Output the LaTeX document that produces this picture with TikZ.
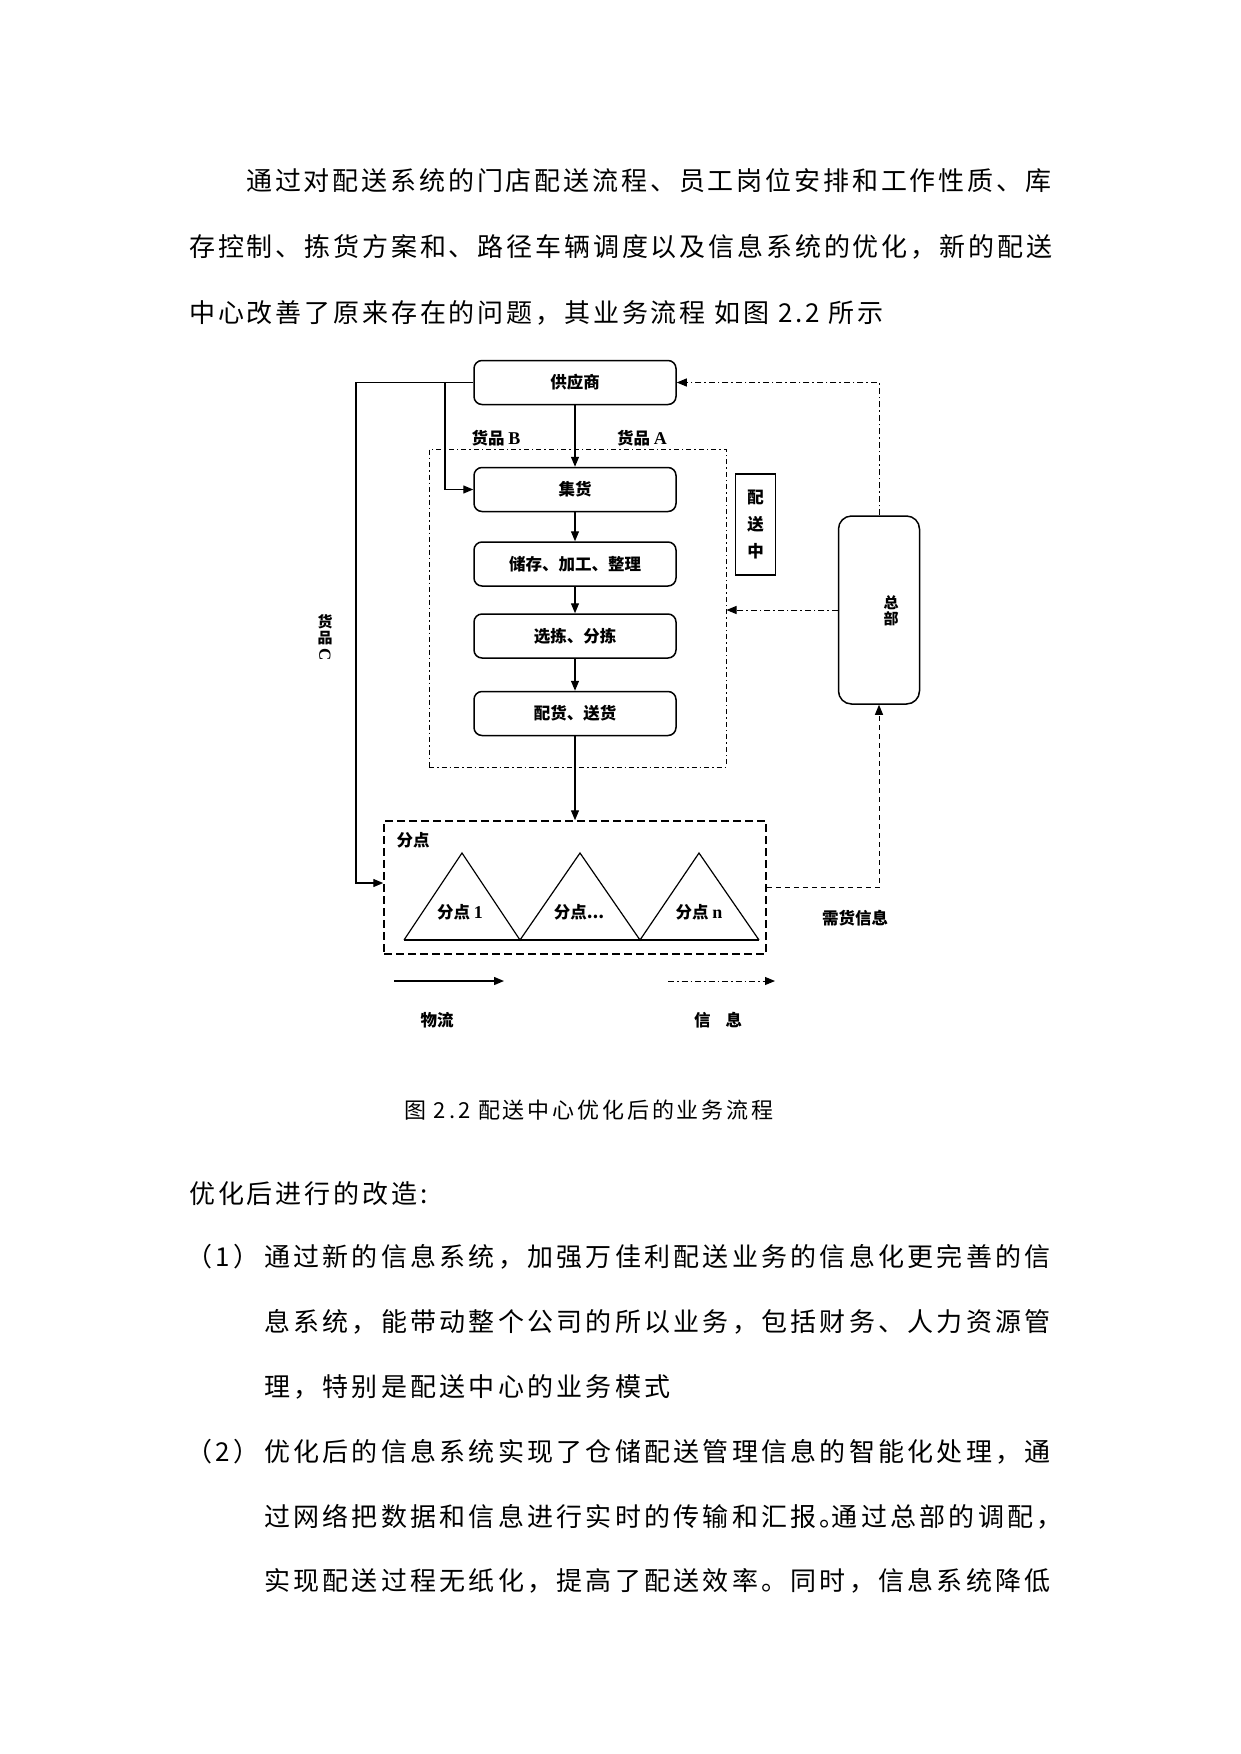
\documentclass[tikz,border=0pt]{standalone}
\usepackage{fontspec}
\usepackage{graphicx}
\usetikzlibrary{arrows.meta}
\newfontfamily\bodyA[LetterSpace=11]{Noto Sans CJK SC}
\newfontfamily\bodyB[LetterSpace=12.5]{Noto Sans CJK SC}
\newfontfamily\capfont[LetterSpace=13]{Noto Sans CJK SC}
\newfontfamily\dfont{Noto Sans CJK SC}
\newfontfamily\lfont{Liberation Serif}
\newcommand{\latn}[1]{{\lfont\bfseries\fontsize{18}{18}\selectfont #1}}
\begin{document}
\begin{tikzpicture}[x=1pt,y=-1pt,
  txtA/.style={anchor=west, inner sep=0pt, font=\bodyA\fontsize{26}{26}\selectfont},
  txtB/.style={anchor=west, inner sep=0pt, font=\bodyB\fontsize{26}{26}\selectfont},
  capt/.style={anchor=west, inner sep=0pt, font=\capfont\fontsize{22}{22}\selectfont},
  box/.style={draw, line width=1.5pt, rounded corners=8pt, minimum width=202pt, minimum height=44pt, inner sep=0pt, font=\dfont\bfseries\fontsize{16.5}{16.5}\selectfont},
  lbl/.style={inner sep=0pt, font=\dfont\bfseries\fontsize{16.5}{16.5}\selectfont},
  arr/.style={line width=1.3pt, -{Triangle[length=10pt,width=8pt]}},
  info/.style={line width=1pt, dash pattern=on 6pt off 3pt on 1.5pt off 3pt, -{Triangle[length=10pt,width=8pt]}},
  need/.style={line width=1pt, dash pattern=on 5pt off 4pt, -{Triangle[length=10pt,width=8pt]}}
]
\fill[white] (0,0) rectangle (1241,1754);
\useasboundingbox (0,0) rectangle (1241,1754);

% ---------- body text ----------
\node[txtA] (p1) at (246,181) {通过对配送系统的门店配送流程、员工岗位安排和工作性质、库};
\node[txtA] (p2) at (189,247) {存控制、拣货方案和、路径车辆调度以及信息系统的优化，新的配送};
\node[txtA] (p3) at (189,313) {中心改善了原来存在的问题，其业务流程 如图 2.2 所示};

\node[capt] (cap) at (404,1110) {图 2.2 配送中心优化后的业务流程};

\node[txtA] (q0) at (189,1194) {优化后进行的改造:};
\node[txtB] (q1n) at (186,1257) {（1）};
\node[txtB] (q1) at (264,1257) {通过新的信息系统，加强万佳利配送业务的信息化更完善的信};
\node[txtB] (q2) at (264,1322) {息系统，能带动整个公司的所以业务，包括财务、人力资源管};
\node[txtB] (q3) at (264,1387) {理，特别是配送中心的业务模式};
\node[txtB] (q4n) at (186,1452) {（2）};
\node[txtB] (q4) at (264,1452) {优化后的信息系统实现了仓储配送管理信息的智能化处理，通};
\node[txtB] (q5) at (264,1517) {过网络把数据和信息进行实时的传输和汇报。\kern-14pt 通过总部的调配，};
\node[txtB] (q6) at (264,1581) {实现配送过程无纸化，提高了配送效率。同时，信息系统降低};

% ---------- diagram ----------
\node[box] (sup) at (575,382.5) {供应商};
\node[box] (jh)  at (575,489.5) {集货};
\node[box] (cc)  at (575,564)   {储存、加工、整理};
\node[box] (xj)  at (575,636)   {选拣、分拣};
\node[box] (ph)  at (575,713.5) {配货、送货};

\node[draw, line width=1pt, dash pattern=on 5pt off 3pt on 1.5pt off 3pt,
      minimum width=297pt, minimum height=318pt, inner sep=0pt] (dc) at (577.5,608) {};

\node[draw, line width=1.5pt, minimum width=40pt, minimum height=101pt, inner sep=0pt,
      align=center, font=\dfont\bfseries\fontsize{16.5}{27}\selectfont] (pszx) at (755.5,524.5) {配\\送\\中};

\node[draw, line width=1.5pt, rounded corners=13pt, minimum width=81pt, minimum height=188pt] (hq) at (879,610) {};
\node[inner sep=0pt, align=center, font=\dfont\bfseries\fontsize{15}{16.5}\selectfont] (hqt) at (891,611) {总\\部};

\node[draw, line width=1.5pt, dash pattern=on 8pt off 4pt, minimum width=382pt, minimum height=133pt] (fd) at (575,887.5) {};
\node[lbl] (fdl) at (413,840) {分点};

% triangles
\draw[line width=1.2pt] (404,940) -- (759,940);
\draw[line width=1.2pt] (404,940) -- (462,853) -- (520,940) -- (580,853) -- (640,940) -- (699,853) -- (759,940);
\node[lbl] (t1) at (460,912) {分点 \latn{1}};
\node[lbl] (t2) at (579,912) {分点...};
\node[lbl] (t3) at (699,912) {分点 \latn{n}};

% labels
\node[lbl] (gb) at (496,438) {货品 \latn{B}};
\node[lbl] (ga) at (642,438) {货品 \latn{A}};
\node[lbl, font=\dfont\bfseries\fontsize{15}{15}\selectfont] (gc1) at (325,622) {货};
\node[lbl, font=\dfont\bfseries\fontsize{15}{15}\selectfont] (gc2) at (325,638) {品};
\node[lbl, rotate=-90, font=\lfont\bfseries\fontsize{17}{17}\selectfont] (gc3) at (325,655) {C};
\node[lbl] (xq) at (855,918) {需货信息};

% connectors
\coordinate (c883) at (0,883);
\coordinate (bB) at (445,382.5);
\draw[arr] (sup.west) -- (356,382.5) |- (fd.west |- c883);
\draw[arr] (bB) |- (jh.west);
\draw[arr] (sup.south) -- (jh.north);
\draw[arr] (jh.south) -- (cc.north);
\draw[arr] (cc.south) -- (xj.north);
\draw[arr] (xj.south) -- (ph.north);
\draw[arr] (ph.south) -- (ph.south |- fd.north);

\draw[info] (hq.north) |- (sup.east);
\draw[info] (hq.west) -- (hq.west -| dc.east);
\draw[need] (fd.east) -| (hq.south);

% legend
\coordinate (la1) at (394,981);
\coordinate (la2) at (504,981);
\coordinate (lb1) at (668,981);
\coordinate (lb2) at (775,981);
\draw[arr] (la1) -- (la2);
\draw[info] (lb1) -- (lb2);
\node[lbl] (wl) at (437,1020) {物流};
\node[lbl] (xx) at (718,1020) {信\hspace{15pt}息};
\end{tikzpicture}
\end{document}
